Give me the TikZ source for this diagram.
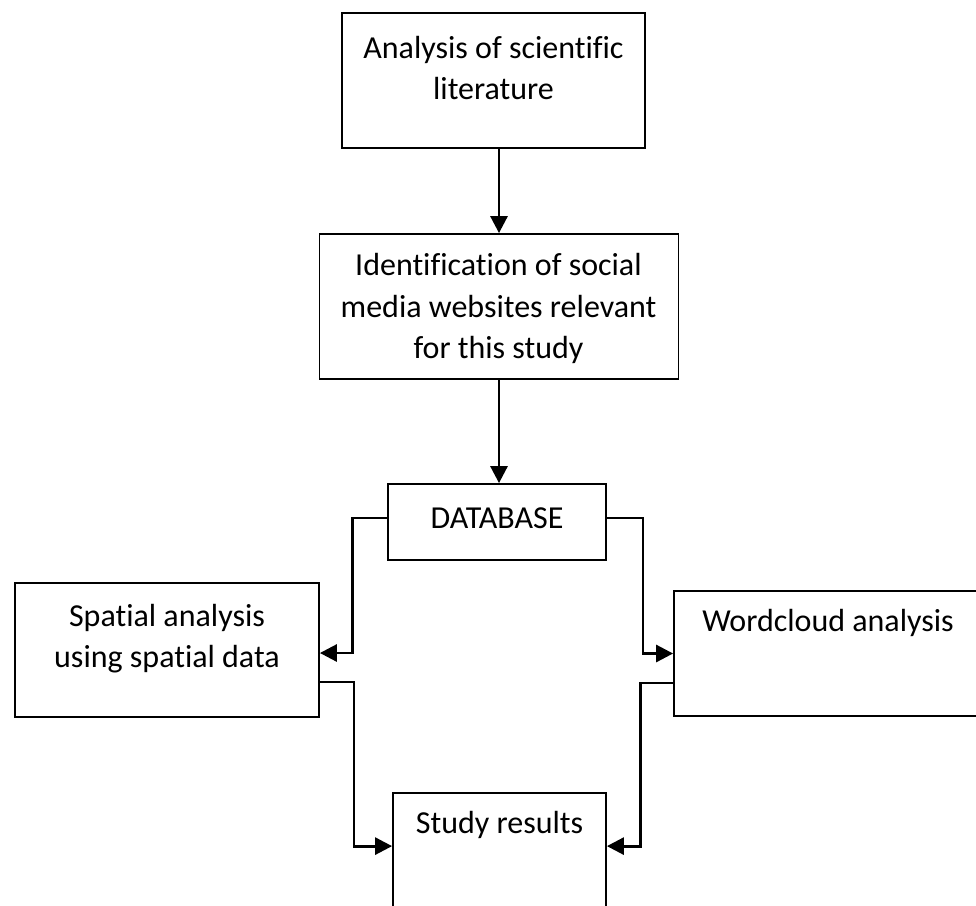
\documentclass[tikz,border=0pt]{standalone}
\usepackage{fontspec}
\setmainfont{Carlito}[Ligatures=NoCommon]
\usetikzlibrary{arrows.meta,calc}
\begin{document}
\begin{tikzpicture}[x=1pt,y=-1pt,
  box/.style={draw=black,line width=1.8pt,minimum width=#1,inner sep=0pt},
  lbl/.style={align=center,font=\fontsize{32}{41.5}\selectfont,inner sep=0pt},
  conn/.style={line width=2.8pt,-{Triangle[length=17pt,width=17pt]}}]
\useasboundingbox (0,0) rectangle (976,905);
\clip (0,0) rectangle (976,905);
% boxes
\node[box=303pt,minimum height=135pt] (A) at (493.5,80.5) {};
\node[box=359pt,minimum height=145pt] (B) at (499,306.5) {};
\node[box=218pt,minimum height=76pt] (C) at (497,522) {};
\node[box=304pt,minimum height=134pt] (D) at (167,650) {};
\node[box=308pt,minimum height=125pt] (E) at (828,653.5) {};
\node[box=213pt,minimum height=140pt] (F) at (499.5,863) {};
% texts
\node[lbl] (tA) at (493.5,68) {Analysis of scientific\\literature};
\node[lbl] (tB) at (498.5,308.5) {Identification of social\\media websites relevant\\for this study};
\node[lbl] (tC) at (497,518) {DATABASE};
\node[lbl] (tD) at (167,638.5) {Spatial analysis\\using spatial data};
\node[lbl] (tE) at (828,623) {Wordcloud analysis};
\node[lbl] (tF) at (499.5,825) {Study results};
% connectors
\draw[conn] (A.south -| B.north) -- (B.north);
\draw[conn] (B.south) -- (B.south |- C.north);
\coordinate (cl) at ($(C.west)+(0,-4)$);
\coordinate (cr) at ($(C.east)+(0,-4)$);
\draw[conn] (cl) -- ($(cl)+(-35,0)$) |- ($(D.east)+(0,3)$);
\draw[conn] (cr) -- ($(cr)+(36,0)$) |- (E.west);
\coordinate (dout) at ($(D.east)+(0,32)$);
\coordinate (eout) at ($(E.west)+(0,29.5)$);
\coordinate (fin) at ($(F.north)+(0,54)$);
\draw[conn] (dout) -- ($(dout)+(34,0)$) |- (fin -| F.west);
\draw[conn] (eout) -- ($(eout)+(-33,0)$) |- (fin -| F.east);
\end{tikzpicture}
\end{document}
